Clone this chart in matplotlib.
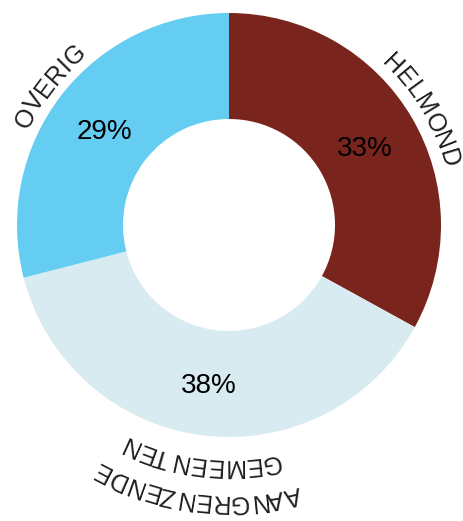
import matplotlib
matplotlib.use("Agg")
import matplotlib.pyplot as plt
import numpy as np
from matplotlib.font_manager import FontProperties
from matplotlib.textpath import TextToPath

# Data
categories = ["HELMOND", "AANGRENZENDE\nGEMEENTEN", "OVERIG"]
shares = [33, 38, 29]
colors = ["#7A241E", "#D7EBF0", "#66CDF2"]

# Canvas in pixel units
W, H, DPI = 464, 521, 100
fig = plt.figure(figsize=(W / DPI, H / DPI), dpi=DPI)
ax = fig.add_axes([0, 0, 1, 1])

cx, cy = 229, H - 225
R_OUT, R_IN = 212, 106

wedges, _, pct_texts = ax.pie(
    shares, colors=colors, startangle=90, counterclock=False,
    center=(cx, cy), radius=R_OUT,
    wedgeprops=dict(width=R_OUT - R_IN, linewidth=0),
    autopct=lambda p: f"{p:.0f}%", pctdistance=0.745,
    textprops=dict(fontsize=20, color="black", family="Liberation Sans"),
    frame=True,
)
# centre the digits optically (no descenders)
for t in pct_texts:
    x, y = t.get_position()
    t.set_position((x, y - 4))

ax.set_xlim(0, W)
ax.set_ylim(0, H)
ax.set_aspect("equal")
ax.axis("off")

# Curved category labels following the ring, tops facing outward
label_fp = FontProperties(family="Liberation Sans", size=18)
ttp = TextToPath()


def ink_width(s):
    w, _, _ = ttp.get_text_width_height_descent(s, label_fp, ismath=False)
    return w * DPI / 72


H_INK = ink_width("H")
H_ADV = ink_width("HH") - H_INK
H_LSB = (H_ADV - H_INK) / 2


def glyph_metrics(ch):
    """advance, left side bearing and ink width of one glyph in pixels"""
    ink = ink_width(ch)
    adv = ink_width("H" + ch + "H") - ink_width("HH")
    lsb = ink_width("H" + ch) - H_ADV - ink + H_LSB
    return adv, lsb, ink


def arc_text(s, theta0_deg, r_base):
    metrics = [glyph_metrics(ch) for ch in s]
    adv = np.array([m[0] for m in metrics])
    total = adv.sum()
    pen = -total / 2
    for ch, (a, lsb, ink) in zip(s, metrics):
        centre = pen + lsb + ink / 2
        th = np.deg2rad(theta0_deg) - centre / r_base
        # Agg offsets each glyph bitmap by its bearing along screen x,
        # so take that back out to keep the glyph on the arc
        x = cx + r_base * np.cos(th) - lsb
        y = cy + r_base * np.sin(th)
        ax.text(x, y, ch, rotation=np.rad2deg(th) - 90, rotation_mode="anchor",
                ha="center", va="baseline", fontproperties=label_fp,
                color="#1f1f1f")
        pen += a


# baseline radius of the innermost line, and line spacing
label_base = [222, 234, 222]
line_gap = 36

for wedge, name, rb in zip(wedges, categories, label_base):
    mid_angle = (wedge.theta1 + wedge.theta2) / 2
    lines = name.split("\n")
    n = len(lines)
    for k, line in enumerate(lines):
        arc_text(line, mid_angle, rb + (n - 1 - k) * line_gap)

fig.savefig("out.png", dpi=DPI, facecolor="white")
